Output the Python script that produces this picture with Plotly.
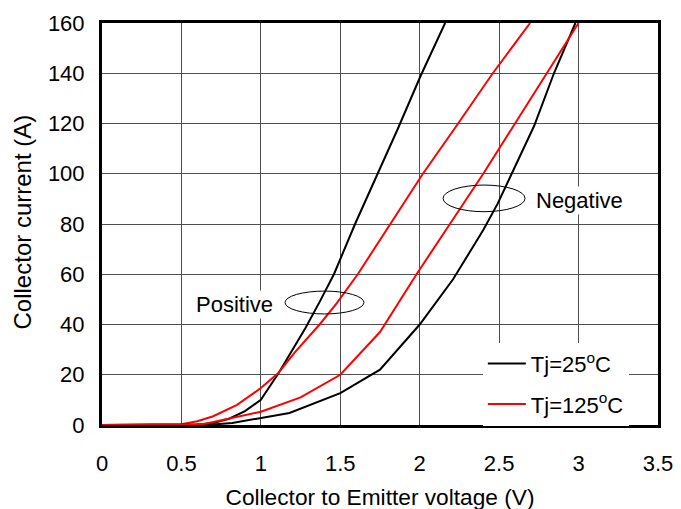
import plotly.graph_objects as go

# Device A (positive temperature coefficient)
v_a_25 = [0, 0.5, 0.6, 0.7, 0.8, 0.9, 1.0, 1.11, 1.19, 1.28, 1.37, 1.46, 1.593, 1.737, 1.863, 2.006, 2.16]
i_a_25 = [0, 0, 0.2, 0.8, 2.5, 5.5, 10, 20.5, 29, 38.5, 49, 60, 80, 100, 118, 139, 160]
v_a_125 = [0, 0.45, 0.5, 0.6, 0.7, 0.85, 1.0, 1.11, 1.215, 1.37, 1.477, 1.61, 1.813, 2.02, 2.22, 2.46, 2.695]
i_a_125 = [0, 0, 0.3, 1.5, 3.5, 8, 14.7, 20.7, 29, 40, 48.4, 60, 80, 100, 118, 140, 160]

# Device B (negative temperature coefficient)
v_b_25 = [0, 0.6, 0.7, 0.82, 1.0, 1.18, 1.5, 1.75, 2.0, 2.21, 2.4, 2.49, 2.59, 2.72, 2.845, 2.98]
i_b_25 = [0, 0, 0.2, 0.8, 2.8, 4.8, 12.7, 22, 40, 58, 77.6, 88, 101.5, 119, 140, 160]
v_b_125 = [0, 0.55, 0.65, 0.8, 1.0, 1.25, 1.5, 1.75, 1.98, 2.19, 2.4, 2.6, 2.8, 3.0]
i_b_125 = [0, 0, 0.5, 2.5, 5.3, 11, 20, 37, 60, 80, 100, 120, 140, 160]

x_ticks = [0, 0.5, 1, 1.5, 2, 2.5, 3, 3.5]
y_ticks = [0, 20, 40, 60, 80, 100, 120, 140, 160]

FONT = "Arial, Liberation Sans, sans-serif"
FS = 22

fig = go.Figure()
fig.add_trace(go.Scatter(x=v_a_25, y=i_a_25, mode="lines", name="Tj=25<sup>o</sup>C",
                         line=dict(color="black", width=2), legendgroup="a"))
fig.add_trace(go.Scatter(x=v_a_125, y=i_a_125, mode="lines", name="Tj=125<sup>o</sup>C",
                         line=dict(color="#ff0000", width=2), legendgroup="b"))
fig.add_trace(go.Scatter(x=v_b_25, y=i_b_25, mode="lines", showlegend=False,
                         line=dict(color="black", width=2)))
fig.add_trace(go.Scatter(x=v_b_125, y=i_b_125, mode="lines", showlegend=False,
                         line=dict(color="#ff0000", width=2)))

# ellipses
fig.add_shape(type="circle", xref="x", yref="y", x0=1.152, x1=1.649, y0=44.2, y1=53.3,
              line=dict(color="black", width=1))
fig.add_shape(type="circle", xref="x", yref="y", x0=2.147, x1=2.663, y0=84.9, y1=95.5,
              line=dict(color="black", width=1))

fig.add_annotation(x=0.831, y=47.8, xref="x", yref="y", text="Positive", showarrow=False,
                   bgcolor="white", font=dict(family=FONT, size=FS, color="black"))
fig.add_annotation(x=3.003, y=89.4, xref="x", yref="y", text="Negative", showarrow=False,
                   bgcolor="white", font=dict(family=FONT, size=FS, color="black"))

# y-axis title
fig.add_annotation(x=-0.143, y=0.505, xref="paper", yref="paper", text="Collector current (A)",
                   textangle=-90, showarrow=False, xanchor="center", yanchor="middle",
                   font=dict(family=FONT, size=24, color="black"))

fig.update_xaxes(range=[0, 3.5], tickvals=x_ticks, ticktext=[str(t) for t in x_ticks],
                 showgrid=True, gridcolor="#505050", gridwidth=1,
                 showline=True, linecolor="black", linewidth=3, mirror=True, zeroline=False,
                 ticks="", ticklabelstandoff=17,
                 tickfont=dict(family=FONT, size=FS, color="black"),
                 title=dict(text="Collector to Emitter voltage (V)", standoff=14,
                            font=dict(family=FONT, size=22.7, color="black")))
fig.update_yaxes(range=[0, 160], tickvals=y_ticks,
                 showgrid=True, gridcolor="#505050", gridwidth=1,
                 showline=True, linecolor="black", linewidth=3, mirror=True, zeroline=False,
                 ticks="", ticklabelstandoff=10,
                 tickfont=dict(family=FONT, size=FS, color="black"))

fig.update_layout(
    width=681, height=509,
    margin=dict(l=94, r=31, t=15, b=92, autoexpand=False),
    paper_bgcolor="white", plot_bgcolor="white",
    font=dict(family=FONT, size=FS, color="black"),
    legend=dict(x=0.685, y=0.205, xanchor="left", yanchor="top", bgcolor="white",
                borderwidth=0, tracegroupgap=9, itemwidth=38,
                font=dict(family=FONT, size=FS, color="black")),
)

fig.write_html("out.html")
